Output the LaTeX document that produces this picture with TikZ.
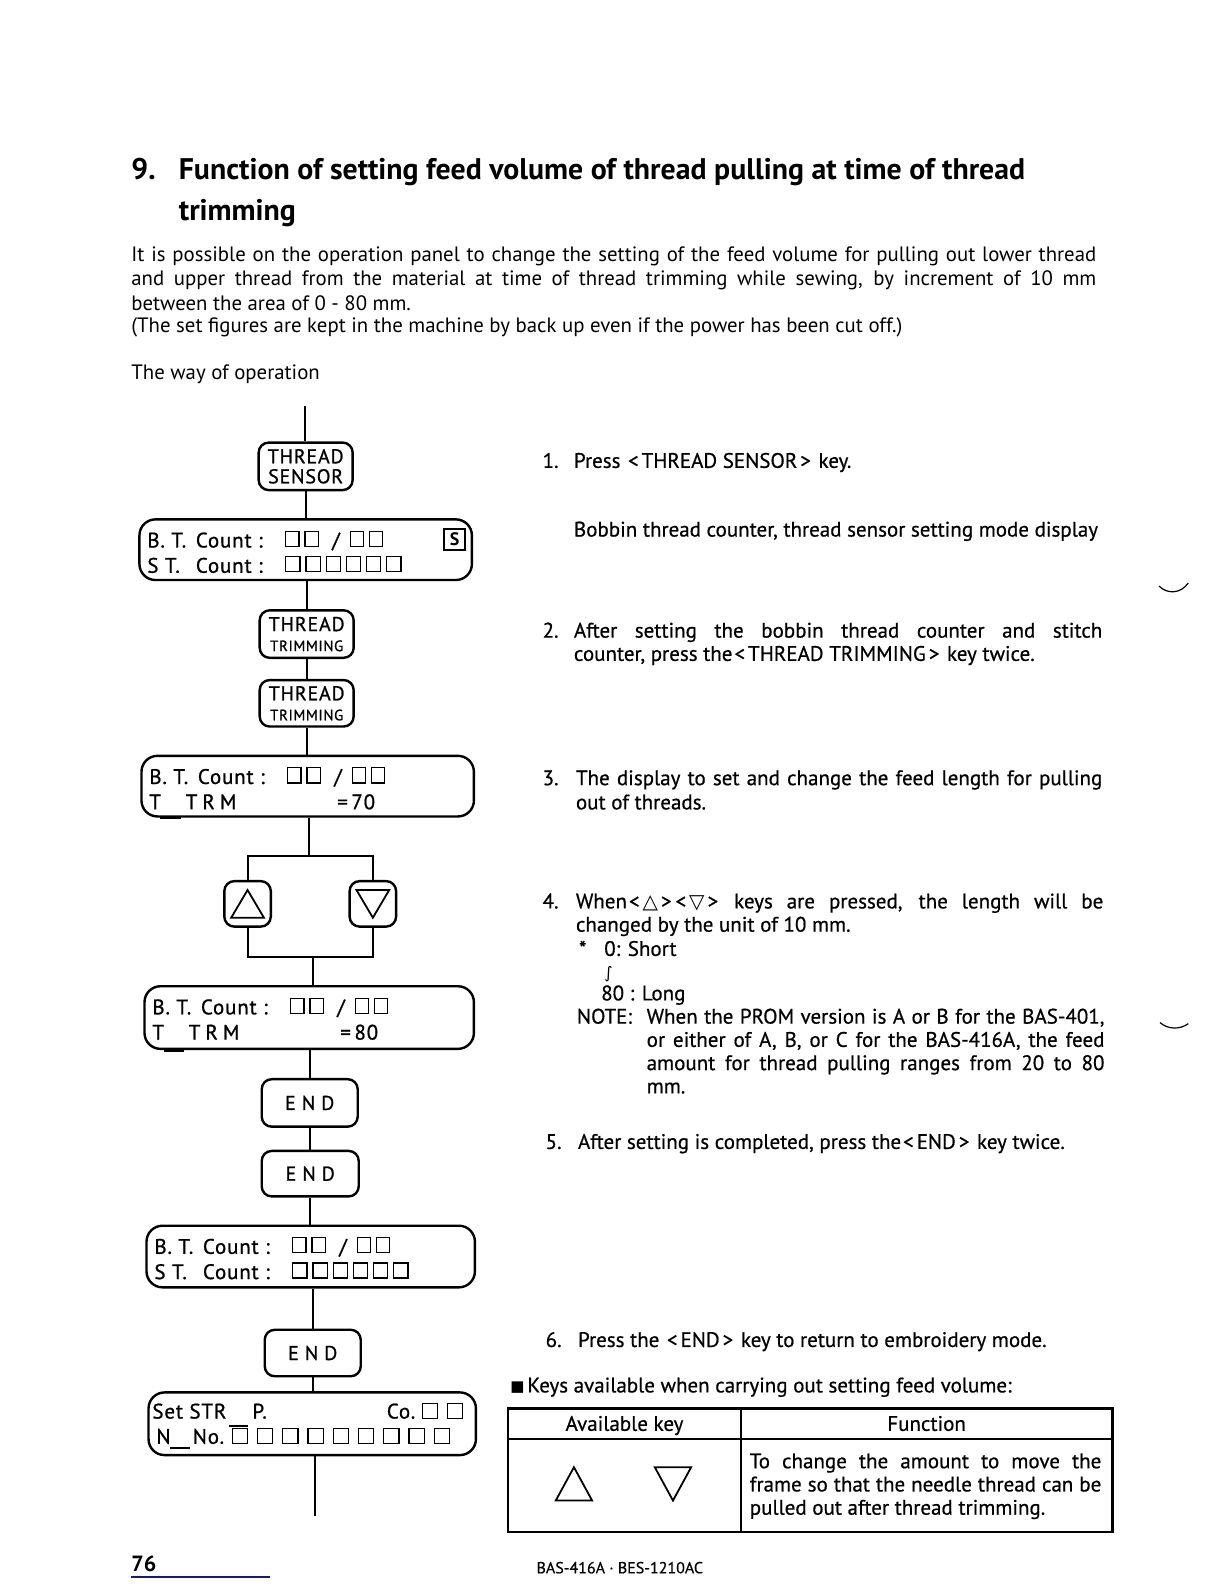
\documentclass[tikz,border=0pt]{standalone}
\usepackage{fontspec}
\setmainfont{PT Sans}
\newfontfamily\dejavu{DejaVu Sans}
\newfontfamily\medf{PT Sans}[FakeBold=0.6]
\newfontfamily\dispf{PT Sans}[FakeBold=0.9,LetterSpace=4]
\newfontfamily\spacedf{PT Sans}[FakeBold=0.9,LetterSpace=30]
\usetikzlibrary{fit,calc}
\definecolor{navyline}{RGB}{25,25,110}
\newcommand\lt{\kern1pt<\kern1.5pt}
\newcommand\gt{\kern1.5pt>\kern1pt}
\newcommand\btrow[1]{%
  \node[dtxt] (#1bt) at ($(#1.north west)+(9,29)$) {B. T.};
  \node[dtxt] (#1ct) at ($(#1.north west)+(57,29)$) {Count :};
  \draw[sqst] ($(#1.north west)+(146,13)$) rectangle ++(13,15);
  \draw[sqst] ($(#1.north west)+(165,13)$) rectangle ++(13,15);
  \node[dtxt] (#1sl) at ($(#1.north west)+(192,29)$) {/};
  \draw[sqst] ($(#1.north west)+(210,13)$) rectangle ++(13,15);
  \draw[sqst] ($(#1.north west)+(229,13)$) rectangle ++(13,15);
}
\newcommand\strow[1]{%
  \node[dtxt] (#1st) at ($(#1.north west)+(9,54)$) {S T.};
  \node[dtxt] (#1sc) at ($(#1.north west)+(57,54)$) {Count :};
  \foreach \k in {0,...,5} \draw[sqst] ($(#1.north west)+(146+20*\k,38)$) rectangle ++(14,15);
}
\newcommand\trmrow[2]{%
  \node[dtxt] (#1t) at ($(#1.north west)+(9,54)$) {T};
  \node[dtxt] (#1trm) at ($(#1.north west)+(45,54)$) {T\hspace{2.5pt}R\hspace{2.5pt}M};
  \node[dtxt] (#1val) at ($(#1.north west)+(195,54)$) {=\,#2};
  \draw[line width=1.8pt] ($(#1.south west)+(20,0)$) -- ++(20,0);
}
\begin{document}
\begin{tikzpicture}[x=0.50525pt,y=-0.50525pt,
  txt/.style={anchor=base west,inner sep=0pt,outer sep=0pt},
  keyst/.style={draw,line width=1.2pt,rounded corners=5pt,inner sep=0pt},
  keytxt/.style={inner sep=0pt,outer sep=0pt,align=center,font=\dispf\fontsize{10}{10}\selectfont},
  dispst/.style={draw,line width=1.2pt,rounded corners=8pt,inner sep=0pt},
  conn/.style={line width=1pt},
  sqst/.style={line width=0.6pt},
  body/.style={txt,font=\fontsize{10.4}{12}\selectfont},
  rbody/.style={txt,font=\medf\fontsize{10.5}{12}\selectfont},
  dtxt/.style={txt,font=\dispf\fontsize{10.5}{12}\selectfont}]
\useasboundingbox (0,0) rectangle (1211.3,1567.6);

% ---------- title and introduction ----------
\node[txt,font=\bfseries\fontsize{14.9}{17}\selectfont] (t9) at (130,178) {9.};
\node[txt,font=\bfseries\fontsize{14.9}{17}\selectfont] (t1) at (177,178) {Function of setting feed volume of thread pulling at time of thread};
\node[txt,font=\bfseries\fontsize{14.9}{17}\selectfont] (t2) at (177,218) {trimming};
\node[body] (p1) at (130,259) {\makebox[482.5pt][s]{It is possible on the operation panel to change the setting of the feed volume for pulling out lower thread}};
\node[body] (p2) at (130,283) {\makebox[482.5pt][s]{and upper thread from the material at time of thread trimming while sewing, by increment of 10 mm}};
\node[body] (p3) at (130,307) {between the area of 0 - 80 mm.};
\node[body] (p4) at (130,329) {(The set figures are kept in the machine by back up even if the power has been cut off.)};
\node[body] (p5) at (130,376) {The way of operation};

% ---------- flowchart ----------
\coordinate (ftop) at (302,402);
\node[keyst,fit={(256,438) (349,485)}] (ts) {};
\node[keytxt] (tstx) at (ts.center) {THREAD\\SENSOR};
\node[dispst,fit={(138,514) (467,574)}] (d1) {};
\node[keyst,fit={(257,604) (350,651)}] (tt1) {};
\node[keytxt] (tt1tx) at (tt1.center) {THREAD\\{\fontsize{7.5}{8}\selectfont TRIMMING}};
\node[keyst,fit={(257,673) (350,719)}] (tt2) {};
\node[keytxt] (tt2tx) at (tt2.center) {THREAD\\{\fontsize{7.5}{8}\selectfont TRIMMING}};
\node[dispst,fit={(140,748) (469,808)}] (d2) {};
\node[keyst,fit={(222,872) (268,917)}] (up) {};
\node[keyst,fit={(346,872) (392,917)}] (dn) {};
\node[dispst,fit={(143,976) (469,1038)}] (d3) {};
\node[keyst,fit={(259,1068) (354,1115)}] (e1) {};
\node[keytxt,font=\spacedf\fontsize{10}{10}\selectfont] (e1tx) at (e1.center) {END};
\node[keyst,fit={(259,1139) (355,1184)}] (e2) {};
\node[keytxt,font=\spacedf\fontsize{10}{10}\selectfont] (e2tx) at (e2.center) {END};
\node[dispst,fit={(145,1213) (470,1274)}] (d4) {};
\node[keyst,fit={(262,1316) (357,1362)}] (e3) {};
\node[keytxt,font=\spacedf\fontsize{10}{10}\selectfont] (e3tx) at (e3.center) {END};
\node[dispst,fit={(147,1378) (471,1440)}] (d5) {};
\coordinate (fbot) at (312,1500);

% display contents
\btrow{d1}\strow{d1}
\node[draw,line width=1.2pt,inner sep=0.6pt,minimum size=10.5pt,font=\bfseries\fontsize{9}{9}\selectfont] (d1s) at ($(d1.north west)+(313,21)$) {S};
\btrow{d2}\trmrow{d2}{70}
\btrow{d3}\trmrow{d3}{80}
\btrow{d4}\strow{d4}
\node[dtxt] (d5set) at ($(d5.north west)+(5,27)$) {Set STR};
\node[dtxt] (d5p) at ($(d5.north west)+(104,27)$) {P.};
\node[dtxt] (d5co) at ($(d5.north west)+(237,27)$) {Co.};
\draw[sqst] ($(d5.north west)+(272,12)$) rectangle ++(15,15);
\draw[sqst] ($(d5.north west)+(297,12)$) rectangle ++(15,15);
\node[dtxt] (d5n) at ($(d5.north west)+(9,52)$) {N};
\draw[line width=1.2pt] ($(d5.north west)+(22,56)$) -- ++(20,0);
\node[dtxt] (d5no) at ($(d5.north west)+(45,52)$) {No.};
\foreach \k in {0,...,8} \draw[sqst] ($(d5.north west)+(84+25*\k,37)$) rectangle ++(15,15);
\draw[line width=1pt] ($(d5.north west)+(81,34)$) -- ++(19,0);

% key triangles
\draw[line width=0.9pt] ($(up.south west)+(8,-10)$) -- ($(up.south east)+(-8,-10)$) -- ($(up.north)+(0,10)$) -- cycle;
\draw[line width=0.9pt] ($(dn.north west)+(8,10)$) -- ($(dn.north east)+(-8,10)$) -- ($(dn.south)+(0,-10)$) -- cycle;

% connectors
\draw[conn] (ftop) -- (ftop |- ts.north);
\draw[conn] (ts.south) -- (ts.south |- d1.north);
\draw[conn] (tt1.north) -- (tt1.north |- d1.south);
\draw[conn] (tt2.north) -- (tt2.north |- tt1.south);
\draw[conn] (tt2.south) -- (tt2.south |- d2.north);
\coordinate (bt) at (306,847);
\coordinate (bb) at (310,947);
\draw[conn] (bt |- d2.south) -- (bt);
\draw[conn] (up.north) -- (up.north |- bt) -- (dn.north |- bt) -- (dn.north);
\draw[conn] (up.south) -- (up.south |- bb) -- (dn.south |- bb) -- (dn.south);
\draw[conn] (bb) -- (bb |- d3.north);
\draw[conn] (e1.north) -- (e1.north |- d3.south);
\draw[conn] (e2.north) -- (e2.north |- e1.south);
\draw[conn] (e2.south) -- (e2.south |- d4.north);
\draw[conn] (e3.north) -- (e3.north |- d4.south);
\draw[conn] (e3.south) -- (e3.south |- d5.north);
\draw[conn] (fbot |- d5.south) -- (fbot);

% ---------- right-hand steps ----------
\node[rbody] (n1) at (537,463) {1.};
\node[rbody] (s1) at (568,463) {Press \lt THREAD SENSOR\gt{} key.};
\node[rbody] (s1b) at (568,531) {Bobbin thread counter, thread sensor setting mode display};
\node[rbody] (n2) at (537,631) {2.};
\node[rbody] (s2a) at (568,631) {\makebox[264.2pt][s]{After setting the bobbin thread counter and stitch}};
\node[rbody] (s2b) at (568,654) {counter, press the\lt THREAD TRIMMING\gt{} key twice.};
\node[rbody] (n3) at (537,777) {3.};
\node[rbody] (s3a) at (570,777) {\makebox[263.2pt][s]{The display to set and change the feed length for pulling}};
\node[rbody] (s3b) at (570,801) {out of threads.};
\node[rbody] (n4) at (537,899) {4.};
\node[rbody] (s4a) at (570,899) {\makebox[263.7pt][s]{When\lt{\dejavu\fontsize{10}{10}\selectfont △}\gt\lt{\dejavu\fontsize{10}{10}\selectfont ▽}\gt{} keys are pressed, the length will be}};
\node[rbody] (s4b) at (570,922) {changed by the unit of 10 mm.};
\node[rbody] (s4c) at (573,946) {*};
\node[rbody] (s4d) at (598,946) {0: Short};
\node[txt,font=\dejavu\fontsize{8}{9}\selectfont] (s4e) at (598,968) {∫};
\node[rbody] (s4f) at (595,990) {80 : Long};
\node[rbody] (s4g) at (571,1013) {NOTE:};
\node[rbody] (s4h) at (640,1013) {\makebox[228.9pt][s]{When the PROM version is A or B for the BAS-401,}};
\node[rbody] (s4i) at (640,1036) {\makebox[228.9pt][s]{or either of A, B, or C for the BAS-416A, the feed}};
\node[rbody] (s4j) at (640,1059) {\makebox[228.9pt][s]{amount for thread pulling ranges from 20 to 80}};
\node[rbody] (s4k) at (640,1082) {mm.};
\node[rbody] (n5) at (540,1137) {5.};
\node[rbody] (s5) at (572,1137) {After setting is completed, press the\lt END\gt{} key twice.};
\node[rbody] (n6) at (540,1333) {6.};
\node[rbody] (s6) at (572,1333) {Press the \lt END\gt{} key to return to embroidery mode.};
\node[txt,font=\dejavu\fontsize{7.5}{9}\selectfont] (bul) at (505,1377) {■};
\node[rbody] (keys) at (522,1378) {Keys available when carrying out setting feed volume:};

% ---------- table ----------
\draw[line width=1.2pt] (503,1394) rectangle (1101,1516);
\draw[line width=1pt] (503,1424) -- (1101,1424);
\draw[line width=1pt] (733,1394) -- (733,1516);
\node[rbody,anchor=base] (th1) at (618,1416) {Available key};
\node[rbody,anchor=base] (th2) at (917,1416) {Function};
\draw[line width=0.9pt] (550,1485) -- (586,1485) -- (568,1452) -- cycle;
\draw[line width=0.9pt] (648,1452) -- (684,1452) -- (666,1485) -- cycle;
\node[rbody] (tf1) at (742,1453) {\makebox[175.8pt][s]{To change the amount to move the}};
\node[rbody] (tf2) at (742,1476) {\makebox[175.8pt][s]{frame so that the needle thread can be}};
\node[rbody] (tf3) at (742,1499) {pulled out after thread trimming.};

% ---------- footer ----------
\node[txt,font=\bfseries\fontsize{11}{13}\selectfont] (pg) at (130,1555) {76};
\draw[line width=0.9pt,navyline] (130,1561) -- (267,1561);
\node[txt,font=\medf\fontsize{8}{10}\selectfont] (model) at (531,1557) {BAS-416A · BES-1210AC};

% scan marks at the right edge
\draw[line width=0.6pt] (1147,580) .. controls (1155,588) and (1168,588) .. (1176,577);
\draw[line width=0.6pt] (1148,1012) .. controls (1156,1019) and (1168,1019) .. (1176,1013);
\end{tikzpicture}
\end{document}
